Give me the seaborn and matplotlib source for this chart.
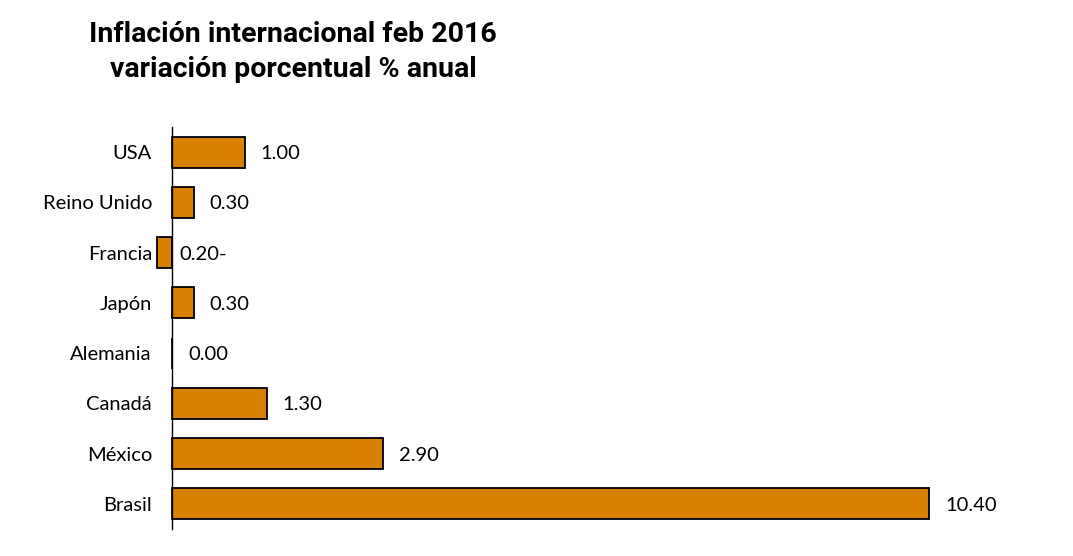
import matplotlib
matplotlib.use("Agg")
import matplotlib.pyplot as plt
import seaborn as sns

# --- datos ---
paises = ["USA", "Reino Unido", "Francia", "Japón", "Alemania", "Canadá", "México", "Brasil"]
inflacion = [1.00, 0.30, -0.20, 0.30, 0.00, 1.30, 2.90, 10.40]
etiquetas = ["1.00", "0.30", "0.20-", "0.30", "0.00", "1.30", "2.90", "10.40"]

sns.set_theme(style="white")
plt.rcParams['font.family'] = ['Lato', 'DejaVu Sans']
plt.rcParams['text.color'] = 'black'

fig = plt.figure(figsize=(10.73, 5.56), dpi=100)
ax = fig.add_axes([150.2 / 1073, 27 / 556, (1045.6 - 150.2) / 1073, 402 / 556])

sns.barplot(x=inflacion, y=paises, orient="h", color="#D88100", saturation=1,
            edgecolor="black", linewidth=1.3, width=0.62, ax=ax)

ax.set_xlim(-0.3, 12)
ax.set_ylim(7.5, -0.5)

for s in ["top", "right", "bottom"]:
    ax.spines[s].set_visible(False)
ax.spines["left"].set_position(("data", 0))
ax.spines["left"].set_color("black")
ax.spines["left"].set_linewidth(1.0)
ax.set_xticks([])
ax.tick_params(axis="y", length=0, pad=14.5, labelsize=14.5, labelcolor="black")
ax.set_xlabel("")
ax.set_ylabel("")

# etiquetas de valor
for i, (v, txt) in enumerate(zip(inflacion, etiquetas)):
    off = 11.5 if v >= 0 else 5.5
    ax.annotate(txt, xy=(max(v, 0), i + 0.03), xytext=(off, 0), textcoords="offset points",
                ha="left", va="center", fontsize=14.5, color="black")

fig.text(293 / 1073, 1 - 21 / 556, "Inflación internacional feb 2016\nvariación porcentual % anual",
         ha="center", va="top", fontsize=20.5, fontweight="bold", linespacing=1.4,
         color="black", family=["Roboto", "DejaVu Sans"])

fig.savefig("out.png", dpi=100)
